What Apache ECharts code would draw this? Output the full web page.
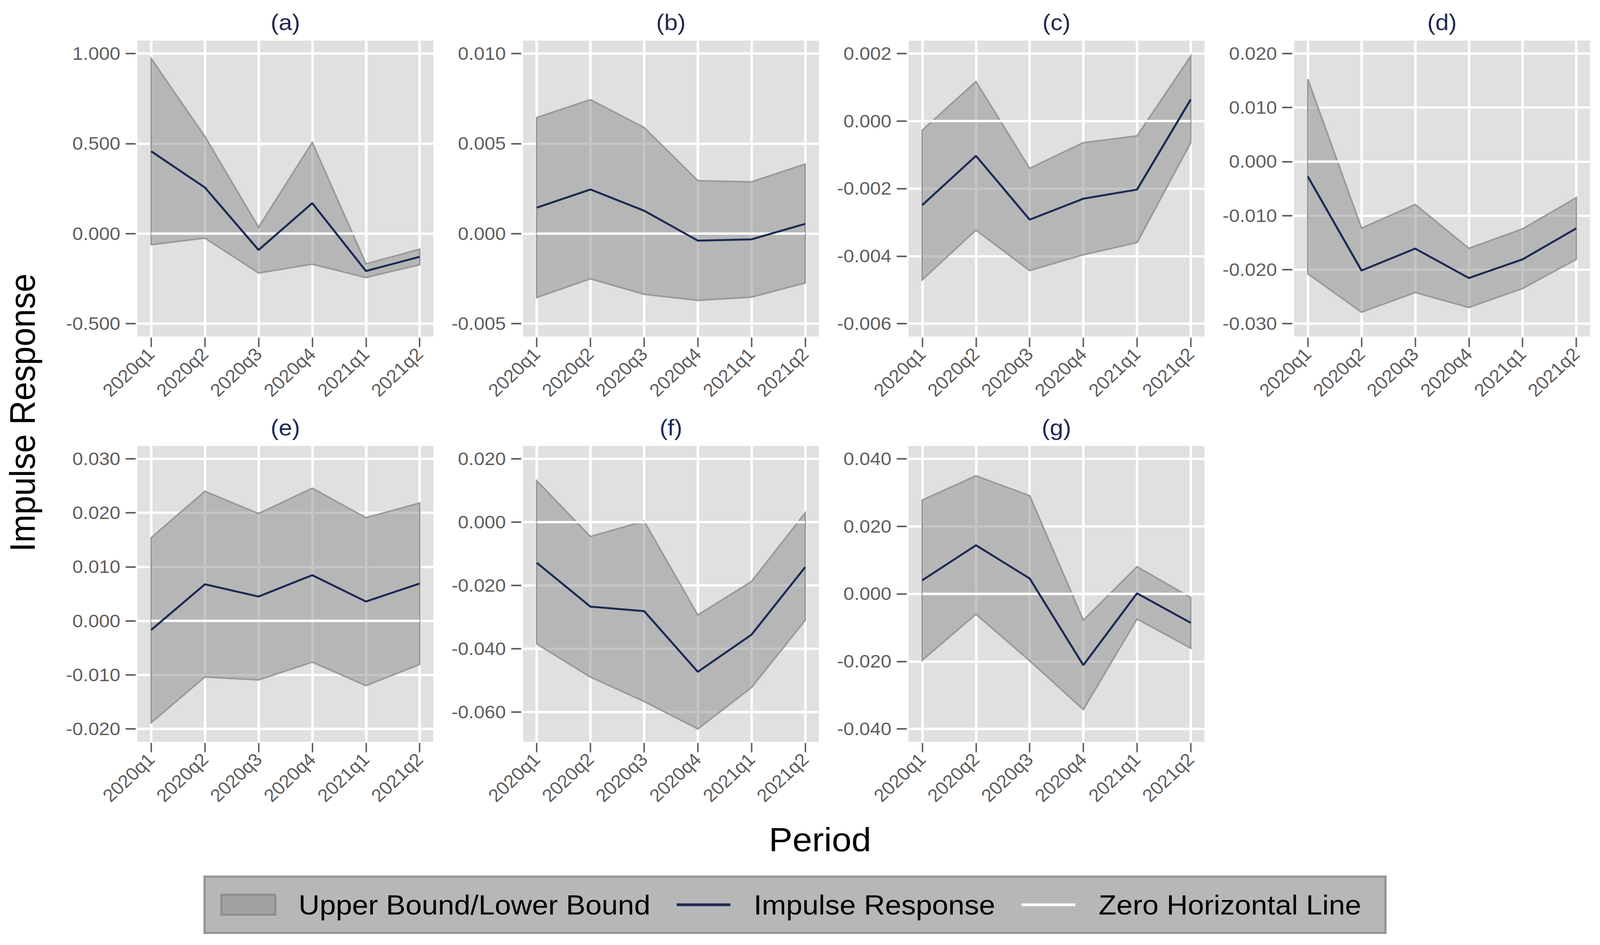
<!DOCTYPE html>
<html>
<head>
<meta charset="utf-8">
<script src="https://cdn.jsdelivr.net/npm/echarts@6/dist/echarts.min.js"></script>
<style>
html,body{margin:0;padding:0;background:#ffffff;overflow:hidden;width:100%;height:100%;}
#chart{position:absolute;left:0;top:0;width:3840px;height:2418px;transform-origin:0 0;}
</style>
</head>
<body>
<div id="chart"></div>
<script>
// ---------- data ----------
const categories = ['2020q1', '2020q2', '2020q3', '2020q4', '2021q1', '2021q2'];
const categoryIndex = [0, 1, 2, 3, 4, 5];
const zeroLine = [0, 0, 0, 0, 0, 0];
const panelTitles = ['(a)', '(b)', '(c)', '(d)', '(e)', '(f)', '(g)'];

const upperA = [0.972, 0.539, 0.035, 0.506, -0.168, -0.087];
const irfA   = [0.457, 0.256, -0.091, 0.169, -0.208, -0.129];
const lowerA = [-0.062, -0.025, -0.219, -0.170, -0.244, -0.173];
const ticksA = [-0.5, 0, 0.5, 1.0];

const upperB = [0.00644, 0.00744, 0.00589, 0.00294, 0.00287, 0.00386];
const irfB   = [0.00144, 0.00245, 0.00127, -0.00039, -0.00032, 0.00054];
const lowerB = [-0.00355, -0.00251, -0.00337, -0.00371, -0.00353, -0.00274];
const ticksB = [-0.005, 0, 0.005, 0.010];

const upperC = [-0.00027, 0.00117, -0.00140, -0.00064, -0.00044, 0.00192];
const irfC   = [-0.00249, -0.00103, -0.00292, -0.00230, -0.00203, 0.00064];
const lowerC = [-0.00470, -0.00323, -0.00443, -0.00396, -0.00360, -0.00064];
const ticksC = [-0.006, -0.004, -0.002, 0, 0.002];

const upperD = [0.01524, -0.01233, -0.00794, -0.01607, -0.01247, -0.00669];
const irfD   = [-0.00277, -0.02018, -0.01611, -0.02156, -0.01810, -0.01237];
const lowerD = [-0.02078, -0.02789, -0.02424, -0.02701, -0.02350, -0.01810];
const ticksD = [-0.03, -0.02, -0.01, 0, 0.01, 0.02];

const upperE = [0.01538, 0.02398, 0.01987, 0.02456, 0.01910, 0.02181];
const irfE   = [-0.00169, 0.00677, 0.00450, 0.00846, 0.00358, 0.00691];
const lowerE = [-0.01886, -0.01040, -0.01093, -0.00764, -0.01199, -0.00808];
const ticksE = [-0.02, -0.01, 0, 0.01, 0.02, 0.03];

const upperF = [0.01306, -0.00455, 0.00030, -0.02934, -0.01876, 0.00289];
const irfF   = [-0.01281, -0.02669, -0.02810, -0.04727, -0.03554, -0.01421];
const lowerF = [-0.03843, -0.04893, -0.05661, -0.06529, -0.05223, -0.03099];
const ticksF = [-0.06, -0.04, -0.02, 0, 0.02];

const upperG = [0.02778, 0.03497, 0.02909, -0.00781, 0.00805, -0.00108];
const irfG   = [0.00402, 0.01439, 0.00456, -0.02112, 0.00015, -0.00859];
const lowerG = [-0.01965, -0.00603, -0.01981, -0.03427, -0.00743, -0.01609];
const ticksG = [-0.04, -0.02, 0, 0.02, 0.04];

// ---------- layout / style ----------
const K = 4482 / 3840;            // horizontal stretch of the original figure
const FONT = '"Liberation Sans", Arial, Helvetica, sans-serif';
const NAVY = '#1b2a55';
const LABEL = '#5e5e5e';

// fit the 3840x2418 drawing (stretched by K) into the actual viewport
(function fit() {
  const vw = window.innerWidth || 4482, vh = window.innerHeight || 2418;
  document.getElementById('chart').style.transform =
    'scale(' + (K * vw / 4482) + ',' + (vh / 2418) + ')';
})();

const panels = [
  {upper: upperA, irf: irfA, lower: lowerA, ticks: ticksA},
  {upper: upperB, irf: irfB, lower: lowerB, ticks: ticksB},
  {upper: upperC, irf: irfC, lower: lowerC, ticks: ticksC},
  {upper: upperD, irf: irfD, lower: lowerD, ticks: ticksD},
  {upper: upperE, irf: irfE, lower: lowerE, ticks: ticksE},
  {upper: upperF, irf: irfF, lower: lowerF, ticks: ticksF},
  {upper: upperG, irf: irfG, lower: lowerG, ticks: ticksG}
];

const grids = [], xAxes = [], yAxes = [], series = [], graphics = [];

panels.forEach((p, i) => {
  const col = i % 4, row = Math.floor(i / 4);
  const left = (385 + 1080 * col) / K;
  const top = 104 + 1037 * row;
  const w = 829 / K, h = 757;
  grids.push({left: left, top: top, width: w, height: h, show: true,
    backgroundColor: '#e0e0e0', borderWidth: 0, containLabel: false});

  xAxes.push({
    gridIndex: i, type: 'value', min: -0.256, max: 5.256, offset: 3, position: 'bottom',
    axisLine: {show: false, onZero: false},
    axisTick: {show: true, length: 24, customValues: categoryIndex,
      lineStyle: {color: LABEL, width: 3.5}},
    axisLabel: {customValues: categoryIndex, formatter: v => categories[Math.round(v)],
      rotate: 45, margin: 34, color: LABEL, fontSize: 46, fontFamily: FONT},
    splitLine: {show: true, lineStyle: {color: '#ffffff', width: 6}}
  });

  const lo = Math.min(p.ticks[0], ...p.lower);
  const hi = Math.max(p.ticks[p.ticks.length - 1], ...p.upper);
  const pad = (hi - lo) * 33 / 691;
  yAxes.push({
    gridIndex: i, type: 'value', min: lo - pad, max: hi + pad, offset: 4.3, position: 'left',
    axisLine: {show: false, onZero: false},
    axisTick: {show: true, length: 24, customValues: p.ticks,
      lineStyle: {color: LABEL, width: 4}},
    axisLabel: {customValues: p.ticks, formatter: v => v.toFixed(3),
      margin: 36.8, color: LABEL, fontSize: 46, fontFamily: FONT},
    splitLine: {show: true, lineStyle: {color: '#ffffff', width: 6}}
  });

  const n = categories.length;
  series.push({
    type: 'custom', name: 'Upper Bound/Lower Bound', xAxisIndex: i, yAxisIndex: i, z: 2,
    silent: true,
    itemStyle: {color: '#a2a2a2'},
    data: categoryIndex.map(j => [j, p.upper[j], p.lower[j]]),
    encode: {x: 0, y: [1, 2]},
    renderItem: (params, api) => {
      if (params.dataIndexInside !== 0) return null;
      const pts = [];
      for (let j = 0; j < n; j++) pts.push(api.coord([api.value(0, j), api.value(1, j)]));
      for (let j = n - 1; j >= 0; j--) pts.push(api.coord([api.value(0, j), api.value(2, j)]));
      return {type: 'polygon', shape: {points: pts},
        style: {fill: 'rgba(140,140,140,0.5)', stroke: '#999999', lineWidth: 4, lineJoin: 'miter'}};
    }
  });
  series.push({
    type: 'line', name: 'Zero Horizontal Line', xAxisIndex: i, yAxisIndex: i, z: 3,
    silent: true, symbol: 'none',
    data: categoryIndex.map(j => [j, zeroLine[j]]),
    itemStyle: {color: '#ffffff'},
    lineStyle: {color: '#ffffff', width: 6}
  });
  series.push({
    type: 'line', name: 'Impulse Response', xAxisIndex: i, yAxisIndex: i, z: 4,
    silent: true, symbol: 'none',
    data: categoryIndex.map(j => [j, p.irf[j]]),
    itemStyle: {color: NAVY},
    lineStyle: {color: NAVY, width: 5}
  });

  graphics.push({type: 'text', x: left + w / 2, y: 57 + 1037 * row,
    style: {text: panelTitles[i], fontSize: 58, fontFamily: FONT, fill: NAVY,
      align: 'center', verticalAlign: 'middle', textAlign: 'center', textVerticalAlign: 'middle'}});
});

graphics.push({type: 'text', x: 53.5, y: 1056, rotation: Math.PI / 2,
  style: {text: 'Impulse Response', fontSize: 86, fontFamily: FONT, fill: '#000000',
    align: 'center', verticalAlign: 'middle', textAlign: 'center', textVerticalAlign: 'middle'}});
graphics.push({type: 'text', x: 1968, y: 2148,
  style: {text: 'Period', fontSize: 85, fontFamily: FONT, fill: '#000000',
    align: 'center', verticalAlign: 'middle', textAlign: 'center', textVerticalAlign: 'middle'}});

const lineIcon = 'path://M0,0L129,0L129,7L0,7Z';
const option = {
  animation: false,
  textStyle: {fontFamily: FONT},
  grid: grids, xAxis: xAxes, yAxis: yAxes, series: series,
  graphic: graphics,
  legend: {
    left: 491, top: 2243, orient: 'horizontal',
    padding: [37, 58, 37, 38],
    backgroundColor: '#b7b7b7', borderColor: '#959595', borderWidth: 5.5,
    itemWidth: 129, itemHeight: 51, itemGap: 63, selectedMode: false,
    textStyle: {fontSize: 70, color: '#000000', fontFamily: FONT, padding: [0, 0, 0, 51]},
    data: [
      {name: 'Upper Bound/Lower Bound', icon: 'rect',
        itemStyle: {color: '#a2a2a2', borderColor: '#8c8c8c', borderWidth: 5}},
      {name: 'Impulse Response', icon: lineIcon, itemStyle: {color: NAVY, borderWidth: 0}},
      {name: 'Zero Horizontal Line', icon: lineIcon, itemStyle: {color: '#ffffff', borderWidth: 0}}
    ]
  }
};

const chart = echarts.init(document.getElementById('chart'), null,
  {renderer: 'svg', width: 3840, height: 2418});
chart.setOption(option);
</script>
</body>
</html>
